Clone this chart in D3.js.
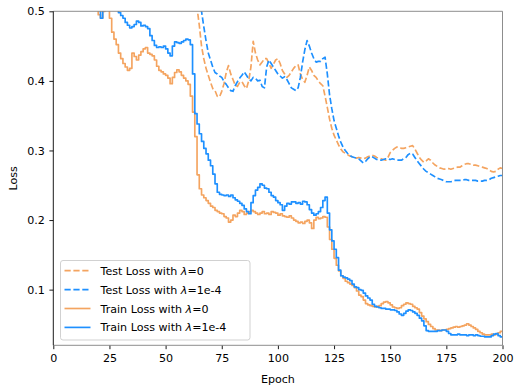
<!DOCTYPE html>
<html><head><meta charset="utf-8">
<script src="https://cdn.jsdelivr.net/npm/d3@7"></script>
<style>body{margin:0;background:#fff}svg{display:block}text{font-family:"DejaVu Sans",sans-serif}</style>
</head><body>
<svg id="c" width="514" height="388"></svg>
<script>
const xTicks = [0,25,50,75,100,125,150,175,200];
const yTicks = [0.1,0.2,0.3,0.4,0.5];
const seriesNames = ["Test Loss with λ=0","Test Loss with λ=1e-4","Train Loss with λ=0","Train Loss with λ=1e-4"];
const colors = ["#f4a460","#1e90ff"];

const trainStart = 18;
const trainLoss0 = [0.53,0.51,0.495,0.49,0.50,0.51,0.505,0.49,0.47,0.46,0.452,0.44,0.432,0.425,0.42,0.415,0.418,0.44,0.435,0.43,0.437,0.442,0.446,0.448,0.44,0.438,0.436,0.43,0.421,0.415,0.413,0.41,0.408,0.404,0.396,0.405,0.412,0.416,0.413,0.408,0.404,0.40,0.395,0.378,0.355,0.32,0.265,0.245,0.236,0.232,0.228,0.224,0.22,0.218,0.214,0.212,0.21,0.209,0.205,0.203,0.197,0.2,0.207,0.205,0.21,0.214,0.212,0.208,0.21,0.212,0.214,0.212,0.21,0.208,0.21,0.212,0.209,0.21,0.208,0.212,0.211,0.21,0.207,0.209,0.206,0.205,0.204,0.206,0.203,0.2,0.198,0.196,0.197,0.195,0.198,0.2,0.196,0.188,0.2,0.204,0.202,0.203,0.205,0.204,0.19,0.172,0.158,0.145,0.135,0.127,0.12,0.116,0.112,0.11,0.108,0.106,0.103,0.098,0.092,0.09,0.085,0.08,0.078,0.077,0.076,0.075,0.076,0.077,0.08,0.082,0.083,0.081,0.078,0.075,0.074,0.073,0.074,0.077,0.079,0.081,0.08,0.079,0.076,0.074,0.072,0.067,0.062,0.058,0.054,0.05,0.047,0.044,0.042,0.042,0.041,0.042,0.042,0.043,0.044,0.045,0.046,0.047,0.046,0.047,0.048,0.049,0.051,0.049,0.047,0.045,0.043,0.04,0.038,0.036,0.035,0.035,0.035,0.036,0.035,0.036,0.038,0.04,0.04];
const trainLoss1 = [0.54,0.52,0.505,0.49,0.505,0.52,0.53,0.525,0.52,0.51,0.505,0.498,0.494,0.49,0.484,0.48,0.476,0.478,0.481,0.486,0.484,0.479,0.48,0.478,0.475,0.465,0.458,0.451,0.448,0.449,0.448,0.45,0.446,0.44,0.436,0.45,0.456,0.455,0.454,0.456,0.458,0.46,0.459,0.452,0.41,0.353,0.338,0.324,0.313,0.303,0.295,0.286,0.278,0.266,0.252,0.24,0.237,0.236,0.235,0.236,0.234,0.236,0.232,0.229,0.227,0.224,0.221,0.216,0.212,0.209,0.225,0.235,0.243,0.247,0.252,0.25,0.246,0.245,0.24,0.235,0.233,0.228,0.225,0.222,0.214,0.22,0.224,0.223,0.226,0.226,0.224,0.225,0.223,0.227,0.226,0.222,0.215,0.21,0.207,0.209,0.212,0.218,0.228,0.233,0.21,0.186,0.17,0.158,0.146,0.128,0.12,0.118,0.117,0.115,0.113,0.108,0.104,0.103,0.1,0.099,0.095,0.091,0.088,0.085,0.079,0.076,0.075,0.074,0.073,0.073,0.072,0.072,0.071,0.071,0.07,0.068,0.065,0.063,0.066,0.069,0.071,0.07,0.068,0.066,0.063,0.059,0.055,0.048,0.041,0.04,0.04,0.04,0.04,0.041,0.041,0.042,0.042,0.04,0.037,0.035,0.035,0.035,0.036,0.035,0.035,0.035,0.034,0.035,0.035,0.034,0.035,0.034,0.033,0.033,0.032,0.032,0.032,0.034,0.036,0.037,0.034,0.032,0.032];

const test0Start = 62;
const testLoss0 = [0.56,0.53,0.505,0.48,0.45,0.432,0.418,0.408,0.398,0.389,0.386,0.378,0.377,0.385,0.396,0.412,0.422,0.41,0.402,0.394,0.392,0.398,0.399,0.393,0.389,0.4,0.42,0.457,0.44,0.43,0.423,0.427,0.432,0.432,0.425,0.418,0.424,0.43,0.432,0.425,0.415,0.41,0.405,0.408,0.413,0.418,0.422,0.423,0.41,0.402,0.398,0.408,0.42,0.415,0.408,0.405,0.4,0.396,0.393,0.378,0.362,0.345,0.332,0.322,0.315,0.308,0.302,0.298,0.296,0.294,0.292,0.291,0.29,0.289,0.29,0.289,0.288,0.289,0.291,0.292,0.293,0.292,0.29,0.289,0.288,0.287,0.286,0.29,0.297,0.3,0.303,0.305,0.305,0.303,0.303,0.304,0.305,0.306,0.307,0.302,0.296,0.29,0.286,0.283,0.285,0.288,0.286,0.282,0.279,0.277,0.275,0.274,0.273,0.274,0.274,0.273,0.274,0.275,0.276,0.276,0.278,0.28,0.281,0.281,0.28,0.279,0.279,0.278,0.277,0.276,0.275,0.274,0.272,0.27,0.269,0.27,0.273,0.275,0.274];
const test1Start = 63;
const testLoss1 = [0.58,0.55,0.525,0.5,0.478,0.458,0.44,0.43,0.42,0.412,0.41,0.407,0.405,0.399,0.395,0.39,0.386,0.385,0.393,0.399,0.404,0.408,0.413,0.408,0.403,0.4,0.405,0.404,0.4,0.401,0.392,0.39,0.42,0.43,0.425,0.42,0.415,0.41,0.407,0.404,0.406,0.402,0.396,0.39,0.388,0.386,0.39,0.405,0.427,0.445,0.458,0.45,0.44,0.432,0.427,0.428,0.428,0.432,0.434,0.41,0.38,0.36,0.343,0.332,0.321,0.312,0.305,0.3,0.296,0.293,0.291,0.29,0.289,0.288,0.285,0.282,0.284,0.288,0.291,0.291,0.289,0.287,0.287,0.286,0.287,0.288,0.288,0.287,0.288,0.287,0.286,0.286,0.286,0.288,0.29,0.294,0.296,0.295,0.29,0.285,0.281,0.277,0.273,0.27,0.268,0.266,0.264,0.262,0.26,0.259,0.258,0.256,0.255,0.255,0.255,0.256,0.257,0.257,0.257,0.257,0.258,0.258,0.257,0.257,0.257,0.257,0.256,0.256,0.256,0.257,0.257,0.258,0.26,0.261,0.262,0.263,0.264,0.264];

const svg = d3.select("#c");
const L = 53.3, R = 502.5, T = 11.3, B = 345.3;
const x = d3.scaleLinear().domain([0,200]).range([L,R]);
const y = d3.scaleLinear().domain([0.02,0.5]).range([B,T]);

svg.append("defs").append("clipPath").attr("id","clip")
  .append("rect").attr("x",L).attr("y",T).attr("width",R-L).attr("height",B-T);

const toPts = (start, arr) => arr.map((v,i)=>[start+i, v]);
const lineLin = d3.line().x(d=>x(d[0])).y(d=>y(d[1]));
const lineStep = d3.line().x(d=>x(d[0])).y(d=>y(d[1])).curve(d3.curveStepAfter);

const g = svg.append("g").attr("clip-path","url(#clip)");
const series = [
  {pts: toPts(test0Start,testLoss0), c: colors[0], dash: "6.2,2.7", gen: lineLin},
  {pts: toPts(test1Start,testLoss1), c: colors[1], dash: "6.2,2.7", gen: lineLin},
  {pts: toPts(trainStart,trainLoss0), c: colors[0], dash: null, gen: lineStep},
  {pts: toPts(trainStart,trainLoss1), c: colors[1], dash: null, gen: lineStep}
];
series.forEach(s=>{
  g.append("path").attr("d", s.gen(s.pts)).attr("fill","none")
   .attr("stroke", s.c).attr("stroke-width",1.67)
   .attr("stroke-dasharray", s.dash).attr("stroke-linejoin","round");
});

// axes
const xAxis = d3.axisBottom(x).tickValues(xTicks).tickSize(3.9).tickPadding(4.5).tickFormat(d3.format("d"));
const gx = svg.append("g").attr("transform",`translate(0,${B})`).call(xAxis);
gx.select(".domain").remove();
gx.selectAll(".tick line").attr("stroke","#000").attr("stroke-width",0.9);
gx.selectAll(".tick text").attr("font-size",11.1).attr("fill","#000").attr("font-family","DejaVu Sans");

const yAxis = d3.axisLeft(y).tickValues(yTicks).tickSize(3.9).tickPadding(4.5).tickFormat(d3.format(".1f"));
const gy = svg.append("g").attr("transform",`translate(${L},0)`).call(yAxis);
gy.select(".domain").remove();
gy.selectAll(".tick line").attr("stroke","#000").attr("stroke-width",0.9);
gy.selectAll(".tick text").attr("font-size",11.1).attr("fill","#000").attr("font-family","DejaVu Sans");

// spines
svg.append("line").attr("x1",L).attr("x2",R).attr("y1",T).attr("y2",T).attr("stroke","#808080").attr("stroke-width",0.9);
svg.append("line").attr("x1",R).attr("x2",R).attr("y1",T).attr("y2",B).attr("stroke","#808080").attr("stroke-width",0.9);
svg.append("line").attr("x1",L).attr("x2",R).attr("y1",B).attr("y2",B).attr("stroke","#808080").attr("stroke-width",0.9);
svg.append("line").attr("x1",L).attr("x2",L).attr("y1",T).attr("y2",B).attr("stroke","#000").attr("stroke-width",0.9);

// labels
svg.append("text").attr("x",(L+R)/2).attr("y",383).attr("text-anchor","middle").attr("font-size",11.1).text("Epoch");
svg.append("text").attr("transform",`translate(17,${(T+B)/2}) rotate(-90)`).attr("text-anchor","middle").attr("font-size",11.1).text("Loss");

// legend
const lg = svg.append("g");
lg.append("rect").attr("x",60.5).attr("y",260.5).attr("width",189.5).attr("height",79.5).attr("rx",2.5)
  .attr("fill","#fff").attr("fill-opacity",0.8).attr("stroke","#cccccc").attr("stroke-width",0.9);
const rows = [270.7, 289.6, 308.5, 327.4];
series.forEach((s,i)=>{
  lg.append("line").attr("x1",64.5).attr("x2",90.5).attr("y1",rows[i]).attr("y2",rows[i])
    .attr("stroke",s.c).attr("stroke-width",1.67).attr("stroke-dasharray",s.dash);
  const parts = seriesNames[i].split("λ");
  const t = lg.append("text").attr("x",100.5).attr("y",rows[i]+4).attr("font-size",11.1);
  t.append("tspan").text(parts[0]);
  t.append("tspan").attr("font-style","italic").text("λ");
  t.append("tspan").text(parts[1]);
});
</script>
</body></html>
